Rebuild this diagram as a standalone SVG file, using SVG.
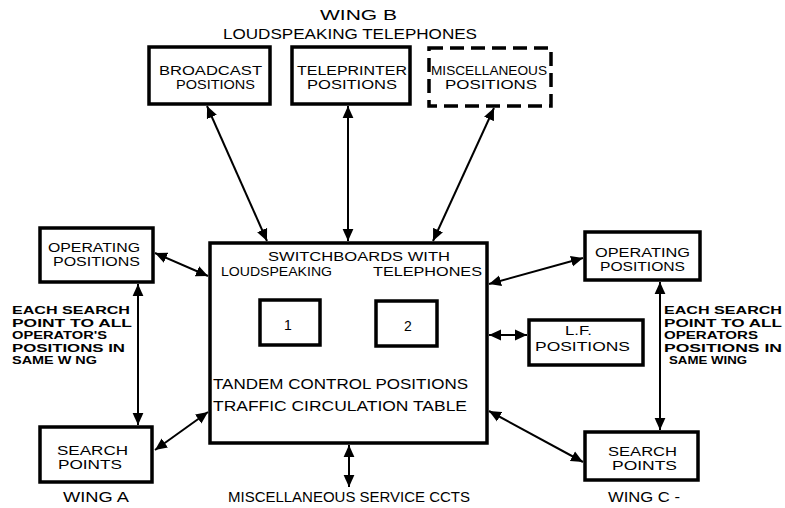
<svg xmlns="http://www.w3.org/2000/svg" width="785" height="508" viewBox="0 0 785 508">
<style>
.box{fill:#fff;stroke:#000;stroke-width:3.5}
.dash{fill:#fff;stroke:#000;stroke-width:3.5;stroke-dasharray:14 7}
.t{font-family:"Liberation Sans",Arial,sans-serif;font-size:14px;fill:#000}
.b{font-family:"Liberation Sans",Arial,sans-serif;font-size:12.5px;fill:#000}
.s{font-family:"Liberation Sans",Arial,sans-serif;font-size:11px;font-weight:bold;fill:#000}
.c{stroke:#000;stroke-width:2;fill:none;marker-start:url(#ah);marker-end:url(#ah)}
</style>
<defs>
<marker id="ah" viewBox="0 0 10 10" refX="10" refY="5" markerWidth="6" markerHeight="6" markerUnits="strokeWidth" orient="auto-start-reverse">
<path d="M0,0.5 L10,5 L0,9.5 z" fill="#000"/>
</marker>
</defs>
<rect width="785" height="508" fill="#fff"/>
<g id="title">
<text class="t" x="320" y="20" textLength="77" lengthAdjust="spacingAndGlyphs">WING B</text>
<text class="t" x="223" y="39" textLength="254" lengthAdjust="spacingAndGlyphs">LOUDSPEAKING TELEPHONES</text>
</g>
<g id="connectors">
<line class="c" x1="207" y1="106" x2="267" y2="241"/>
<line class="c" x1="348" y1="106" x2="348" y2="241"/>
<line class="c" x1="494" y1="108" x2="433" y2="241"/>
<line class="c" x1="155" y1="253" x2="208" y2="276"/>
<line class="c" x1="155" y1="450" x2="208" y2="412"/>
<line class="c" x1="138" y1="284" x2="138" y2="425"/>
<line class="c" x1="489" y1="284" x2="583" y2="258"/>
<line class="c" x1="489" y1="335" x2="527" y2="335"/>
<line class="c" x1="489" y1="411" x2="583" y2="462"/>
<line class="c" x1="660" y1="282" x2="660" y2="430"/>
<line class="c" x1="349" y1="445" x2="349" y2="487"/>
</g>
<g id="broadcast">
<rect class="box" x="149" y="47" width="121" height="57"/>
<text class="b" x="159" y="75" textLength="103" lengthAdjust="spacingAndGlyphs">BROADCAST</text>
<text class="b" x="176" y="89" textLength="79" lengthAdjust="spacingAndGlyphs">POSITIONS</text>
</g>
<g id="teleprinter">
<rect class="box" x="292" y="47" width="118" height="57"/>
<text class="b" x="297" y="75" textLength="110" lengthAdjust="spacingAndGlyphs">TELEPRINTER</text>
<text class="b" x="307" y="89" textLength="90" lengthAdjust="spacingAndGlyphs">POSITIONS</text>
</g>
<g id="misc-positions">
<rect class="dash" x="429" y="48" width="122" height="58"/>
<text class="b" x="431" y="75" textLength="116" lengthAdjust="spacingAndGlyphs">MISCELLANEOUS</text>
<text class="b" x="445" y="89" textLength="92" lengthAdjust="spacingAndGlyphs">POSITIONS</text>
</g>
<g id="switchboards">
<rect class="box" x="210" y="243" width="277" height="200"/>
<text class="b" x="268" y="261" textLength="182" lengthAdjust="spacingAndGlyphs">SWITCHBOARDS WITH</text>
<text class="b" x="221" y="276" textLength="111" lengthAdjust="spacingAndGlyphs">LOUDSPEAKING</text>
<text class="b" x="373" y="276" textLength="109" lengthAdjust="spacingAndGlyphs">TELEPHONES</text>
<text class="t" x="213" y="389" textLength="255" lengthAdjust="spacingAndGlyphs">TANDEM CONTROL  POSITIONS</text>
<text class="t" x="213" y="411" textLength="254" lengthAdjust="spacingAndGlyphs">TRAFFIC CIRCULATION TABLE</text>
</g>
<g id="board-1">
<rect class="box" x="260" y="300" width="60" height="45"/>
<text class="t" x="288" y="330" text-anchor="middle" font-size="12">1</text>
</g>
<g id="board-2">
<rect class="box" x="376" y="301" width="61" height="45"/>
<text class="t" x="408" y="331" text-anchor="middle" font-size="13">2</text>
</g>
<g id="op-a">
<rect class="box" x="40" y="228" width="113" height="54"/>
<text class="b" x="48" y="252" textLength="92" lengthAdjust="spacingAndGlyphs">OPERATING</text>
<text class="b" x="53" y="266" textLength="87" lengthAdjust="spacingAndGlyphs">POSITIONS</text>
</g>
<g id="search-a">
<rect class="box" x="40" y="427" width="112" height="55"/>
<text class="b" x="57" y="455" textLength="71" lengthAdjust="spacingAndGlyphs">SEARCH</text>
<text class="b" x="58" y="469" textLength="64" lengthAdjust="spacingAndGlyphs">POINTS</text>
</g>
<g id="note-a">
<text class="s" x="12" y="314" textLength="118" lengthAdjust="spacingAndGlyphs">EACH SEARCH</text>
<text class="s" x="12" y="326.5" textLength="120" lengthAdjust="spacingAndGlyphs">POINT TO ALL</text>
<text class="s" x="12" y="339" textLength="95" lengthAdjust="spacingAndGlyphs">OPERATOR'S</text>
<text class="s" x="12" y="351.5" textLength="113" lengthAdjust="spacingAndGlyphs">POSITIONS IN</text>
<text class="s" x="12" y="364" textLength="85" lengthAdjust="spacingAndGlyphs">SAME W NG</text>
</g>
<g id="op-c">
<rect class="box" x="585" y="232" width="115" height="48"/>
<text class="b" x="595" y="257" textLength="95" lengthAdjust="spacingAndGlyphs">OPERATING</text>
<text class="b" x="600" y="271" textLength="85" lengthAdjust="spacingAndGlyphs">POSITIONS</text>
</g>
<g id="lf">
<rect class="box" x="529" y="320" width="114" height="45"/>
<text class="b" x="565" y="335" textLength="27" lengthAdjust="spacingAndGlyphs">L.F.</text>
<text class="b" x="535" y="351" textLength="95" lengthAdjust="spacingAndGlyphs">POSITIONS</text>
</g>
<g id="search-c">
<rect class="box" x="585" y="432" width="113" height="48"/>
<text class="b" x="608" y="456" textLength="69" lengthAdjust="spacingAndGlyphs">SEARCH</text>
<text class="b" x="612" y="470" textLength="65" lengthAdjust="spacingAndGlyphs">POINTS</text>
</g>
<g id="note-c">
<text class="s" x="664" y="314" textLength="118" lengthAdjust="spacingAndGlyphs">EACH SEARCH</text>
<text class="s" x="664" y="326.5" textLength="118" lengthAdjust="spacingAndGlyphs">POINT TO ALL</text>
<text class="s" x="664" y="339" textLength="94" lengthAdjust="spacingAndGlyphs">OPERATORS</text>
<text class="s" x="664" y="351.5" textLength="118" lengthAdjust="spacingAndGlyphs">POSITIONS IN</text>
<text class="s" x="669" y="364" textLength="78" lengthAdjust="spacingAndGlyphs">SAME WING</text>
</g>
<g id="labels">
<text class="t" x="63" y="502" textLength="66" lengthAdjust="spacingAndGlyphs">WING A</text>
<text class="t" x="228" y="502" textLength="242" lengthAdjust="spacingAndGlyphs">MISCELLANEOUS SERVICE CCTS</text>
<text class="t" x="608" y="502" textLength="72" lengthAdjust="spacingAndGlyphs">WING C -</text>
</g>
</svg>
